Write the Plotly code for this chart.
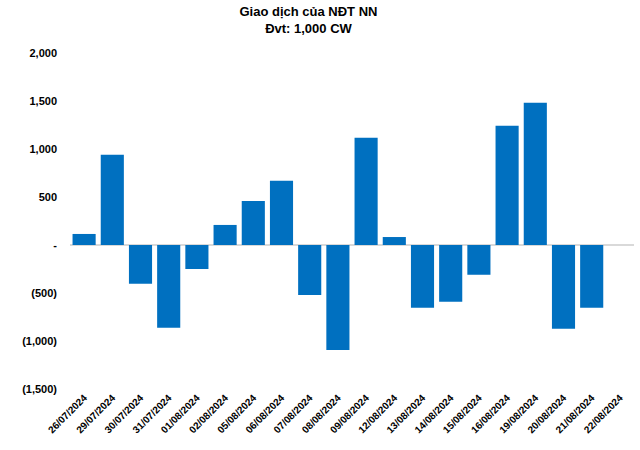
import plotly.graph_objects as go

dates = ["26/07/2024", "29/07/2024", "30/07/2024", "31/07/2024", "01/08/2024",
         "02/08/2024", "05/08/2024", "06/08/2024", "07/08/2024", "08/08/2024",
         "09/08/2024", "12/08/2024", "13/08/2024", "14/08/2024", "15/08/2024",
         "16/08/2024", "19/08/2024", "20/08/2024", "21/08/2024", "22/08/2024"]
values = [115, 940, -404, -863, -250, 209, 459, 668, -522, -1093,
          1117, 83, -654, -591, -310, 1242, 1482, -873, -654, 0]

y_tickvals = [2000, 1500, 1000, 500, 0, -500, -1000, -1500]
y_ticktext = ["2,000", "1,500", "1,000", "500", "-", "(500)", "(1,000)", "(1,500)"]

font_family = "Liberation Sans, Arial, sans-serif"

fig = go.Figure()
fig.add_trace(go.Bar(x=dates, y=values, marker_color="#0070C0",
                     marker_line_width=0))

fig.update_layout(
    width=640, height=450,
    margin=dict(l=70, r=6, t=53, b=61),
    paper_bgcolor="white", plot_bgcolor="white",
    bargap=0.18,
    showlegend=False,
    font=dict(family=font_family, color="#000000"),
    title=dict(text="<b>Giao dịch của NĐT NN<br>Đvt: 1,000 CW</b>",
               x=0.482, xanchor="center", y=0.965, yanchor="top",
               font=dict(size=13, family=font_family)),
)
fig.update_xaxes(
    type="category", tickangle=-45, showgrid=False, showline=False,
    ticks="", tickfont=dict(size=10, family=font_family, weight="bold"),
)
fig.update_yaxes(
    range=[-1500, 2000], tickvals=y_tickvals, ticktext=y_ticktext,
    showgrid=False, zeroline=True, zerolinecolor="#d9d9d9", zerolinewidth=1.5,
    showline=False, ticks="", ticklabelstandoff=12,
    tickfont=dict(size=11, family=font_family, weight="bold"),
)

fig.write_html("out.html")
